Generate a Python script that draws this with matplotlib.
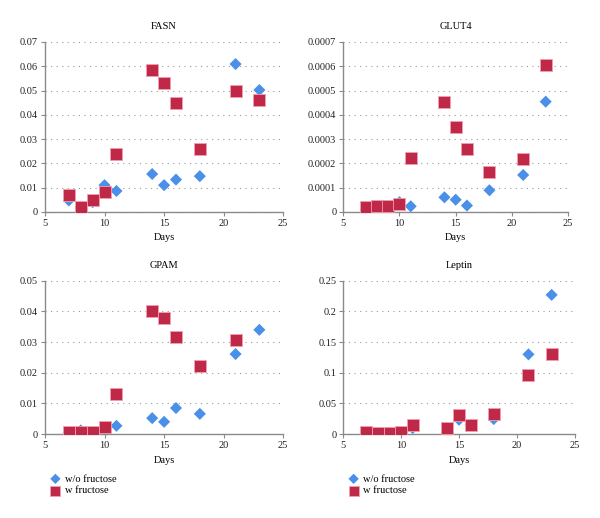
import matplotlib
matplotlib.use("Agg")
import matplotlib.pyplot as plt

plt.rcParams['font.family'] = ['Liberation Serif', 'DejaVu Serif']

days = [7, 8, 9, 10, 11, 14, 15, 16, 18, 21, 23]

fasn_wo = [0.0047, 0.0020, 0.0040, 0.0110, 0.0086, 0.0156, 0.0110, 0.0133, 0.0147, 0.0609, 0.0502]
fasn_w = [0.0070, 0.0019, 0.0047, 0.0082, 0.0240, 0.0584, 0.0531, 0.0449, 0.0257, 0.0498, 0.0460]

glut4_wo = [0.000010, 0.000007, 0.000010, 0.000040, 0.000023, 0.000060, 0.000050, 0.000026, 0.000089, 0.000152, 0.000454]
glut4_w = [0.000019, 0.000023, 0.000023, 0.000034, 0.000221, 0.000451, 0.000350, 0.000258, 0.000163, 0.000218, 0.000604]

gpam_days_w = [7, 8, 9, 10, 11, 14, 15, 16, 18, 21]
gpam_wo = [0.0005, 0.0012, 0.0005, 0.0009, 0.0027, 0.0052, 0.0040, 0.0085, 0.0066, 0.0261, 0.0340]
gpam_w = [0.0008, 0.0007, 0.0008, 0.0023, 0.0131, 0.0400, 0.0379, 0.0318, 0.0222, 0.0306]

leptin_wo = [0.002, 0.001, 0.001, 0.002, 0.0098, 0.0027, 0.0234, 0.015, 0.0245, 0.130, 0.227]
leptin_w = [0.0033, 0.0016, 0.0020, 0.0033, 0.0140, 0.0103, 0.0315, 0.0150, 0.0330, 0.0967, 0.130]

panels = [
    ("FASN", days, fasn_wo, days, fasn_w, [0, 0.01, 0.02, 0.03, 0.04, 0.05, 0.06, 0.07],
     ["0", "0.01", "0.02", "0.03", "0.04", "0.05", "0.06", "0.07"], [0.075, 0.591, 0.397, 0.328]),
    ("GLUT4", days, glut4_wo, days, glut4_w, [0, 0.0001, 0.0002, 0.0003, 0.0004, 0.0005, 0.0006, 0.0007],
     ["0", "0.0001", "0.0002", "0.0003", "0.0004", "0.0005", "0.0006", "0.0007"], [0.572, 0.591, 0.375, 0.328]),
    ("GPAM", days, gpam_wo, gpam_days_w, gpam_w, [0, 0.01, 0.02, 0.03, 0.04, 0.05],
     ["0", "0.01", "0.02", "0.03", "0.04", "0.05"], [0.075, 0.162, 0.397, 0.296]),
    ("Leptin", days, leptin_wo, days, leptin_w, [0, 0.05, 0.1, 0.15, 0.2, 0.25],
     ["0", "0.05", "0.1", "0.15", "0.2", "0.25"], [0.572, 0.162, 0.386, 0.296]),
]

blue = "#4a90e8"
red = "#c02848"
edge_red = "#f0a0b0"
spine_c = "#8a8a8a"

fig = plt.figure(figsize=(6.0, 5.18), dpi=100)
axes = []
for title, xb, yb, xr, yr, yt, ytl, pos in panels:
    ax = fig.add_axes(pos)
    axes.append(ax)
    ax.scatter(xb, yb, marker='D', s=38, color=blue, edgecolors='none', zorder=3, label="w/o fructose")
    ax.scatter(xr, yr, marker='s', s=75, color=red, edgecolors=edge_red, linewidths=0.6, zorder=4, label="w fructose")
    ax.set_xlim(5, 25)
    ax.set_ylim(yt[0], yt[-1])
    ax.set_xticks([5, 10, 15, 20, 25])
    ax.set_yticks(yt)
    ax.set_yticklabels(ytl)
    ax.set_title(title, fontsize=7.5, pad=9)
    ax.set_xlabel("Days", fontsize=7.5, labelpad=4)
    ax.tick_params(axis='both', labelsize=7.5, length=3, width=0.8, direction='out',
                   color=spine_c, pad=2)
    for s in ['top', 'right']:
        ax.spines[s].set_visible(False)
    for s in ['left', 'bottom']:
        ax.spines[s].set_color(spine_c)
        ax.spines[s].set_linewidth(1.0)
    ax.yaxis.grid(True, linestyle=(0, (1, 4)), color='#999999', linewidth=0.8)
    ax.set_axisbelow(True)
    for lab in ax.get_xticklabels() + ax.get_yticklabels():
        lab.set_color('#222222')

for ax in (axes[2], axes[3]):
    ax.legend(loc='upper left', bbox_to_anchor=(0.0, -0.235), frameon=False, fontsize=7.5,
              handletextpad=0.3, labelspacing=0.25, handlelength=1.2, borderaxespad=0,
              markerscale=0.85)

fig.savefig("out.png", dpi=100, facecolor='white')
